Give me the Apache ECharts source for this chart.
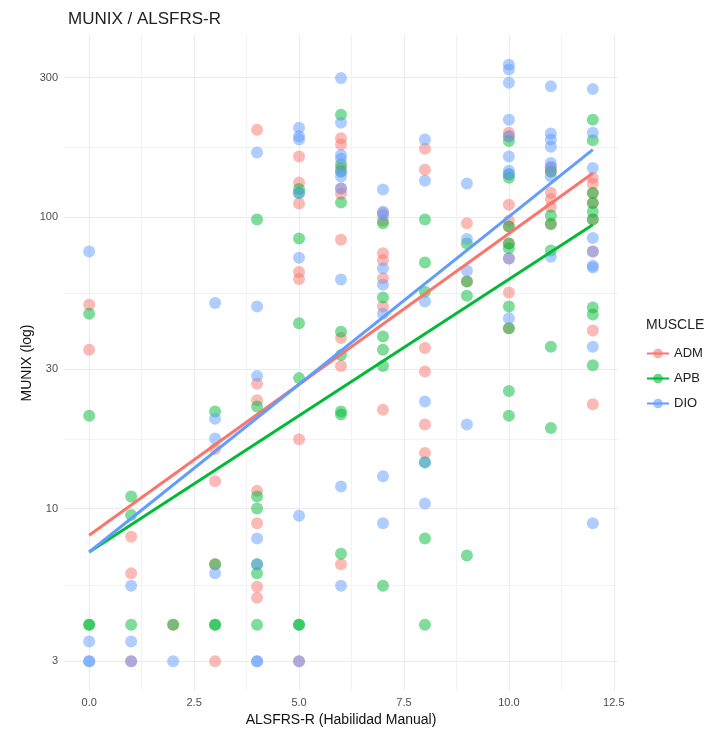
<!DOCTYPE html>
<html>
<head>
<meta charset="utf-8">
<script src="https://cdn.jsdelivr.net/npm/echarts@6/dist/echarts.min.js"></script>
<style>
  html, body { margin: 0; padding: 0; background: #fff; }
  #main { width: 712px; height: 733px; }
</style>
</head>
<body>
<div id="main"></div>
<script>
// points, [ALSFRS-R, MUNIX]
const admPoints = [
  [0, 50], [0, 35],
  [1, 8], [1, 6], [1, 3],
  [2, 4],
  [3, 16], [3, 12.4], [3, 6.45], [3, 3],
  [4, 199], [4, 26.8], [4, 23.5], [4, 11.5], [4, 8.9], [4, 5.4], [4, 4.95],
  [5, 161], [5, 131], [5, 111], [5, 64.7], [5, 61.2], [5, 17.3], [5, 3],
  [6, 186], [6, 177], [6, 147], [6, 125], [6, 120], [6, 83.4], [6, 38.4], [6, 30.8], [6, 6.45],
  [7, 103], [7, 97], [7, 75], [7, 71], [7, 61.6], [7, 49.3], [7, 21.8],
  [8, 171], [8, 145], [8, 35.5], [8, 29.5], [8, 19.4], [8, 15.5],
  [9, 95], [9, 60],
  [10, 194], [10, 189], [10, 110], [10, 97], [10, 92.7], [10, 81], [10, 72], [10, 55], [10, 41.5],
  [11, 148], [11, 143], [11, 121], [11, 115], [11, 108], [11, 94.5],
  [12, 136], [12, 130], [12, 120.6], [12, 111.5], [12, 98], [12, 76], [12, 40.8], [12, 22.8]
];
const apbPoints = [
  [0, 46.5], [0, 20.8], [0, 4], [0, 4],
  [1, 11], [1, 9.5], [1, 4],
  [2, 4],
  [3, 21.5], [3, 6.45], [3, 4], [3, 4],
  [4, 98], [4, 22.4], [4, 11], [4, 10], [4, 6.45], [4, 6], [4, 4],
  [5, 124.6], [5, 120.6], [5, 84.3], [5, 43.2], [5, 28], [5, 4], [5, 4],
  [6, 224], [6, 151], [6, 143], [6, 112], [6, 40.4], [6, 33.6], [6, 21.5], [6, 21], [6, 7],
  [7, 95], [7, 52.9], [7, 38.9], [7, 35], [7, 30.8], [7, 5.44],
  [8, 98], [8, 69.7], [8, 55.4], [8, 14.4], [8, 7.9], [8, 4],
  [9, 81], [9, 60], [9, 53.6], [9, 6.9],
  [10, 182], [10, 140], [10, 136], [10, 92.7], [10, 81], [10, 78], [10, 49.3], [10, 41.5], [10, 25.3], [10, 20.8],
  [11, 143], [11, 101], [11, 94.5], [11, 76.7], [11, 35.9], [11, 18.9],
  [12, 215], [12, 183], [12, 120.6], [12, 111.5], [12, 104], [12, 98], [12, 48.9], [12, 46.3], [12, 31]
];
const dioPoints = [
  [0, 76], [0, 3.5], [0, 3], [0, 3],
  [1, 5.44], [1, 3.5], [1, 3],
  [2, 3],
  [3, 50.7], [3, 20.3], [3, 17.4], [3, 6],
  [4, 166], [4, 49.3], [4, 28.5], [4, 7.9], [4, 6.45], [4, 3], [4, 3],
  [5, 202], [5, 189], [5, 184], [5, 120.6], [5, 72.4], [5, 9.45], [5, 3],
  [6, 299], [6, 210], [6, 163], [6, 158], [6, 143], [6, 137.6], [6, 125], [6, 61], [6, 11.9], [6, 5.44],
  [7, 124], [7, 104], [7, 101], [7, 66.7], [7, 58.5], [7, 46.5], [7, 12.9], [7, 8.9],
  [8, 184], [8, 133], [8, 51.3], [8, 23.3], [8, 14.4], [8, 10.4],
  [9, 130], [9, 84], [9, 65.3], [9, 19.4],
  [10, 332], [10, 320], [10, 288], [10, 215], [10, 189], [10, 161], [10, 144], [10, 140], [10, 72], [10, 44.9],
  [11, 280], [11, 193], [11, 184], [11, 174], [11, 153], [11, 148], [11, 137.6], [11, 73],
  [12, 274], [12, 194], [12, 147], [12, 84.6], [12, 76], [12, 68], [12, 67], [12, 35.9], [12, 8.9]
];

// fitted lines (end points)
const admFit = [[0, 8.1], [12, 141]];
const apbFit = [[0, 7.1], [12, 94]];
const dioFit = [[0, 7.1], [12, 170]];

const muscles = ['ADM', 'APB', 'DIO'];
const colors = ['#F8766D', '#00BA38', '#619CFF'];
const xTicks = [0, 2.5, 5, 7.5, 10, 12.5];
const xMinor = [1.25, 3.75, 6.25, 8.75, 11.25];
const yTicks = [3, 10, 30, 100, 300];
const yMinor = [5.477, 17.32, 54.77, 173.2];

const chartDom = document.getElementById('main');
const myChart = echarts.init(chartDom);

const gridColor = '#EBEBEB';
const font = 'Liberation Sans, Arial, sans-serif';
const pointSets = [admPoints, apbPoints, dioPoints];
const fitSets = [admFit, apbFit, dioFit];

const series = [];
// line series first so the legend shows line + dot keys
muscles.forEach((m, i) => {
  series.push({
    name: m,
    type: 'line',
    data: fitSets[i],
    showSymbol: false,
    symbol: 'circle',
    lineStyle: { color: colors[i], width: 3 },
    itemStyle: { color: colors[i], opacity: 0.6 },
    z: 3
  });
});
muscles.forEach((m, i) => {
  series.push({
    name: m,
    type: 'scatter',
    data: pointSets[i],
    symbolSize: 12,
    itemStyle: { color: colors[i], opacity: 0.5 },
    z: 2
  });
});

const option = {
  animation: false,
  color: colors,
  title: [
    {
      text: 'MUNIX / ALSFRS-R',
      left: 63,
      top: 6,
      textStyle: { fontFamily: font, fontSize: 17, fontWeight: 'normal', color: '#222' }
    },
    {
      text: 'MUSCLE',
      left: 641,
      top: 313,
      textStyle: { fontFamily: font, fontSize: 14, fontWeight: 'normal', color: '#222' }
    }
  ],
  legend: {
    data: muscles,
    orient: 'vertical',
    left: 641,
    top: 342,
    itemWidth: 22,
    itemHeight: 12,
    itemGap: 12,
    textStyle: { fontFamily: font, fontSize: 13, color: '#222' }
  },
  grid: { left: 64, right: 94, top: 35, bottom: 42 },
  xAxis: [
    {
      type: 'value',
      min: -0.6,
      max: 12.6,
      name: 'ALSFRS-R (Habilidad Manual)',
      nameLocation: 'middle',
      nameGap: 22,
      nameTextStyle: { fontFamily: font, fontSize: 14, color: '#111' },
      axisLine: { show: false },
      axisTick: { show: false, customValues: xTicks },
      axisLabel: {
        customValues: xTicks,
        formatter: v => v.toFixed(1),
        margin: 6,
        fontFamily: font, fontSize: 11, color: '#4D4D4D'
      },
      splitLine: { show: true, lineStyle: { color: gridColor, width: 1 } }
    },
    {
      type: 'value',
      min: -0.6,
      max: 12.6,
      position: 'bottom',
      axisLine: { show: false },
      axisTick: { show: false, customValues: xMinor },
      axisLabel: { show: false, customValues: xMinor },
      splitLine: { show: true, lineStyle: { color: '#F2F2F2', width: 1 } }
    }
  ],
  yAxis: [
    {
      type: 'log',
      logBase: 10,
      min: 2.37,
      max: 420,
      name: 'MUNIX (log)',
      nameLocation: 'middle',
      nameGap: 30,
      nameMoveOverlap: false,
      nameTextStyle: { fontFamily: font, fontSize: 14, color: '#111' },
      axisLine: { show: false },
      axisTick: { show: false, customValues: yTicks },
      axisLabel: {
        customValues: yTicks,
        margin: 6,
        fontFamily: font, fontSize: 11, color: '#4D4D4D'
      },
      splitLine: { show: true, lineStyle: { color: gridColor, width: 1 } }
    },
    {
      type: 'log',
      logBase: 10,
      min: 2.37,
      max: 420,
      position: 'left',
      axisLine: { show: false },
      axisTick: { show: false, customValues: yMinor },
      axisLabel: { show: false, customValues: yMinor },
      splitLine: { show: true, lineStyle: { color: '#F2F2F2', width: 1 } }
    }
  ],
  series: series
};

option && myChart.setOption(option);
</script>
</body>
</html>
